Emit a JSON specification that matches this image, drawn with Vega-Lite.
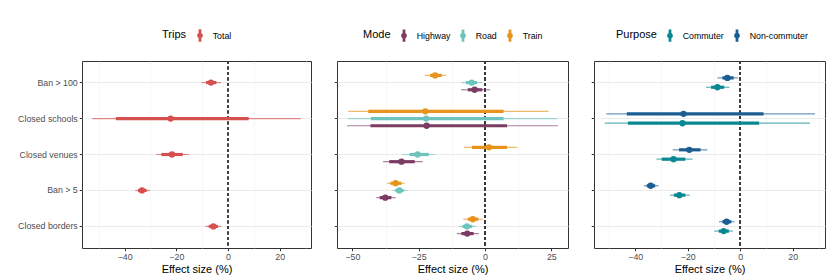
{
  "$schema": "https://vega.github.io/schema/vega-lite/v6.json",
  "padding": {"left": 17, "top": 28, "right": 4, "bottom": 4},
  "bounds": "flush",
  "spacing": 26,
  "datasets": {
    "trips": [
      {"policy": "Ban > 100", "group": "Total", "est": -6.6, "lo95": -10.3, "hi95": -2.7, "lo50": -8.5, "hi50": -4.5},
      {"policy": "Closed schools", "group": "Total", "est": -22.2, "lo95": -52.5, "hi95": 28.1, "lo50": -43.4, "hi50": 8.0},
      {"policy": "Closed venues", "group": "Total", "est": -21.7, "lo95": -27.9, "hi95": -15.1, "lo50": -25.8, "hi50": -17.5},
      {"policy": "Ban > 5", "group": "Total", "est": -33.3, "lo95": -35.9, "hi95": -30.2, "lo50": -34.8, "hi50": -31.5},
      {"policy": "Closed borders", "group": "Total", "est": -5.7, "lo95": -8.8, "hi95": -2.7, "lo50": -7.5, "hi50": -3.9}
    ],
    "mode": [
      {"policy": "Ban > 100", "group": "Train", "est": -18.8, "lo95": -22.7, "hi95": -14.6, "lo50": -20.7, "hi50": -16.3},
      {"policy": "Ban > 100", "group": "Road", "est": -5.0, "lo95": -9.0, "hi95": -1.0, "lo50": -7.2, "hi50": -3.0},
      {"policy": "Ban > 100", "group": "Highway", "est": -3.9, "lo95": -9.0, "hi95": 1.9, "lo50": -6.5, "hi50": -1.0},
      {"policy": "Closed schools", "group": "Train", "est": -22.5, "lo95": -51.6, "hi95": 24.0, "lo50": -44.0, "hi50": 7.0},
      {"policy": "Closed schools", "group": "Road", "est": -22.2, "lo95": -51.6, "hi95": 27.1, "lo50": -43.0, "hi50": 7.0},
      {"policy": "Closed schools", "group": "Highway", "est": -22.0, "lo95": -52.0, "hi95": 27.5, "lo50": -43.2, "hi50": 8.3},
      {"policy": "Closed venues", "group": "Train", "est": 1.5, "lo95": -8.0, "hi95": 12.1, "lo50": -4.9, "hi50": 8.3},
      {"policy": "Closed venues", "group": "Road", "est": -25.4, "lo95": -31.2, "hi95": -18.7, "lo50": -28.4, "hi50": -21.2},
      {"policy": "Closed venues", "group": "Highway", "est": -31.5, "lo95": -38.4, "hi95": -23.5, "lo50": -36.1, "hi50": -26.5},
      {"policy": "Ban > 5", "group": "Train", "est": -33.7, "lo95": -36.9, "hi95": -30.3, "lo50": -35.7, "hi50": -31.5},
      {"policy": "Ban > 5", "group": "Road", "est": -32.3, "lo95": -34.8, "hi95": -29.3, "lo50": -33.8, "hi50": -30.7},
      {"policy": "Ban > 5", "group": "Highway", "est": -37.6, "lo95": -41.0, "hi95": -33.7, "lo50": -39.7, "hi50": -35.3},
      {"policy": "Closed borders", "group": "Train", "est": -4.6, "lo95": -8.2, "hi95": -0.8, "lo50": -6.5, "hi50": -2.5},
      {"policy": "Closed borders", "group": "Road", "est": -6.8, "lo95": -9.9, "hi95": -3.3, "lo50": -8.5, "hi50": -4.8},
      {"policy": "Closed borders", "group": "Highway", "est": -6.7, "lo95": -10.6, "hi95": -2.3, "lo50": -8.9, "hi50": -4.3}
    ],
    "purpose": [
      {"policy": "Ban > 100", "group": "Non-commuter", "est": -4.9, "lo95": -8.7, "hi95": -0.8, "lo50": -6.8, "hi50": -2.5},
      {"policy": "Ban > 100", "group": "Commuter", "est": -8.7, "lo95": -13.0, "hi95": -4.1, "lo50": -11.1, "hi50": -6.1},
      {"policy": "Closed schools", "group": "Non-commuter", "est": -21.6, "lo95": -51.0, "hi95": 28.5, "lo50": -43.2, "hi50": 8.9},
      {"policy": "Closed schools", "group": "Commuter", "est": -22.0, "lo95": -51.6, "hi95": 26.6, "lo50": -42.8, "hi50": 7.2},
      {"policy": "Closed venues", "group": "Non-commuter", "est": -19.4, "lo95": -25.7, "hi95": -12.5, "lo50": -23.3, "hi50": -15.1},
      {"policy": "Closed venues", "group": "Commuter", "est": -25.4, "lo95": -31.9, "hi95": -18.2, "lo50": -29.9, "hi50": -20.9},
      {"policy": "Ban > 5", "group": "Non-commuter", "est": -34.1, "lo95": -36.7, "hi95": -31.1, "lo50": -35.6, "hi50": -32.4},
      {"policy": "Ban > 5", "group": "Commuter", "est": -23.2, "lo95": -26.8, "hi95": -19.2, "lo50": -25.3, "hi50": -20.9},
      {"policy": "Closed borders", "group": "Non-commuter", "est": -5.2, "lo95": -8.1, "hi95": -2.2, "lo50": -6.8, "hi50": -3.4},
      {"policy": "Closed borders", "group": "Commuter", "est": -6.3, "lo95": -9.9, "hi95": -2.8, "lo50": -8.2, "hi50": -4.3}
    ]
  },
  "resolve": {"scale": {"color": "independent", "x": "independent", "y": "independent", "yOffset": "independent"}, "legend": {"color": "independent"}},
  "hconcat": [
    {
      "width": 229,
      "height": 187,
      "data": {"name": "trips"},
      "resolve": {"axis": {"x": "independent"}},
      "layer": [
        {"mark": {"type": "rule", "strokeDash": [3, 2.5], "strokeWidth": 1, "color": "#3A3A3A"},
         "encoding": {"x": {"datum": 0, "type": "quantitative",
            "axis": {"values": [-50, -30, -10, 10, 30], "orient": "bottom", "labels": false, "ticks": false, "domain": false, "title": null, "grid": true, "gridColor": "#F2F2F2", "gridWidth": 0.6}}}},
        {"mark": {"type": "rule", "strokeWidth": 1.2, "opacity": 0.65},
         "encoding": {
           "y": {"field": "policy", "type": "nominal", "title": null,
             "scale": {"domain": ["Ban > 100", "Closed schools", "Closed venues", "Ban > 5", "Closed borders"], "paddingInner": 0, "paddingOuter": 0.1},
             "axis": {"labels": true, "grid": true, "bandPosition": 0.5}},
           "color": {"field": "group", "type": "nominal", "title": "Trips",
             "scale": {"domain": ["Total"], "range": ["#D6504F"]},
             "legend": {"orient": "none", "legendX": 80, "legendY": -32}},
           "x": {"field": "lo95", "type": "quantitative", "title": "Effect size (%)",
             "scale": {"domain": [-56.5, 32.1], "nice": false, "zero": false},
             "axis": {"values": [-40, -20, 0, 20], "orient": "bottom"}},
           "x2": {"field": "hi95"}}},
        {"mark": {"type": "rule", "strokeWidth": 3.2},
         "encoding": {"y": {"field": "policy", "type": "nominal"}, "color": {"field": "group", "type": "nominal"},
           "x": {"field": "lo50", "type": "quantitative", "axis": null}, "x2": {"field": "hi50"}}},
        {"mark": {"type": "point", "shape": "circle", "filled": true, "size": 40, "opacity": 1},
         "encoding": {"y": {"field": "policy", "type": "nominal"}, "color": {"field": "group", "type": "nominal"},
           "x": {"field": "est", "type": "quantitative", "axis": null}}}
      ]
    },
    {
      "width": 231,
      "height": 187,
      "data": {"name": "mode"},
      "resolve": {"axis": {"x": "independent"}},
      "layer": [
        {"mark": {"type": "rule", "strokeDash": [3, 2.5], "strokeWidth": 1, "color": "#3A3A3A"},
         "encoding": {"x": {"datum": 0, "type": "quantitative",
            "axis": {"values": [-37.5, -12.5, 12.5], "orient": "bottom", "labels": false, "ticks": false, "domain": false, "title": null, "grid": true, "gridColor": "#F2F2F2", "gridWidth": 0.6}}}},
        {"mark": {"type": "rule", "strokeWidth": 1.2, "opacity": 0.65},
         "encoding": {
           "y": {"field": "policy", "type": "nominal", "title": null,
             "scale": {"domain": ["Ban > 100", "Closed schools", "Closed venues", "Ban > 5", "Closed borders"], "paddingInner": 0, "paddingOuter": 0.1},
             "axis": {"labels": false, "grid": true, "bandPosition": 0.5}},
           "yOffset": {"field": "group", "type": "nominal",
             "scale": {"domain": ["Train", "Road", "Highway"], "paddingInner": 0, "paddingOuter": 1.5}},
           "color": {"field": "group", "type": "nominal", "title": "Mode",
             "scale": {"domain": ["Highway", "Road", "Train"], "range": ["#7B3B62", "#6CC4BC", "#E8941C"]},
             "legend": {"orient": "none", "legendX": 26, "legendY": -32}},
           "x": {"field": "lo95", "type": "quantitative", "title": "Effect size (%)",
             "scale": {"domain": [-55.8, 31.3], "nice": false, "zero": false},
             "axis": {"values": [-50, -25, 0, 25], "orient": "bottom"}},
           "x2": {"field": "hi95"}}},
        {"mark": {"type": "rule", "strokeWidth": 3.2},
         "encoding": {"y": {"field": "policy", "type": "nominal"}, "yOffset": {"field": "group", "type": "nominal"}, "color": {"field": "group", "type": "nominal"},
           "x": {"field": "lo50", "type": "quantitative", "axis": null}, "x2": {"field": "hi50"}}},
        {"mark": {"type": "point", "shape": "circle", "filled": true, "size": 40, "opacity": 1},
         "encoding": {"y": {"field": "policy", "type": "nominal"}, "yOffset": {"field": "group", "type": "nominal"}, "color": {"field": "group", "type": "nominal"},
           "x": {"field": "est", "type": "quantitative", "axis": null}}}
      ]
    },
    {
      "width": 231,
      "height": 187,
      "data": {"name": "purpose"},
      "resolve": {"axis": {"x": "independent"}},
      "layer": [
        {"mark": {"type": "rule", "strokeDash": [3, 2.5], "strokeWidth": 1, "color": "#3A3A3A"},
         "encoding": {"x": {"datum": 0, "type": "quantitative",
            "axis": {"values": [-50, -30, -10, 10, 30], "orient": "bottom", "labels": false, "ticks": false, "domain": false, "title": null, "grid": true, "gridColor": "#F2F2F2", "gridWidth": 0.6}}}},
        {"mark": {"type": "rule", "strokeWidth": 1.2, "opacity": 0.65},
         "encoding": {
           "y": {"field": "policy", "type": "nominal", "title": null,
             "scale": {"domain": ["Ban > 100", "Closed schools", "Closed venues", "Ban > 5", "Closed borders"], "paddingInner": 0, "paddingOuter": 0.1},
             "axis": {"labels": false, "grid": true, "bandPosition": 0.5}},
           "yOffset": {"field": "group", "type": "nominal",
             "scale": {"domain": ["Non-commuter", "Commuter"], "paddingInner": 0, "paddingOuter": 0.92}},
           "color": {"field": "group", "type": "nominal", "title": "Purpose",
             "scale": {"domain": ["Commuter", "Non-commuter"], "range": ["#0A8892", "#1B5E93"]},
             "legend": {"orient": "none", "legendX": 22, "legendY": -32}},
           "x": {"field": "lo95", "type": "quantitative", "title": "Effect size (%)",
             "scale": {"domain": [-55.7, 32.3], "nice": false, "zero": false},
             "axis": {"values": [-40, -20, 0, 20], "orient": "bottom"}},
           "x2": {"field": "hi95"}}},
        {"mark": {"type": "rule", "strokeWidth": 3.2},
         "encoding": {"y": {"field": "policy", "type": "nominal"}, "yOffset": {"field": "group", "type": "nominal"}, "color": {"field": "group", "type": "nominal"},
           "x": {"field": "lo50", "type": "quantitative", "axis": null}, "x2": {"field": "hi50"}}},
        {"mark": {"type": "point", "shape": "circle", "filled": true, "size": 40, "opacity": 1},
         "encoding": {"y": {"field": "policy", "type": "nominal"}, "yOffset": {"field": "group", "type": "nominal"}, "color": {"field": "group", "type": "nominal"},
           "x": {"field": "est", "type": "quantitative", "axis": null}}}
      ]
    }
  ],
  "config": {
    "font": "Liberation Sans",
    "view": {"stroke": "#333333", "strokeWidth": 1},
    "axis": {
      "domain": false,
      "labelOverlap": false,
      "labelFontSize": 8.8,
      "labelColor": "#4D4D4D",
      "labelPadding": 2,
      "tickColor": "#333333",
      "tickSize": 2.75,
      "tickWidth": 1,
      "gridColor": "#EBEBEB",
      "gridWidth": 1.1,
      "titleFontSize": 11,
      "titleFontWeight": "normal",
      "titleColor": "#000000",
      "titlePadding": 2
    },
    "legend": {
      "direction": "horizontal",
      "titleOrient": "left",
      "titleFontSize": 11,
      "titleFontWeight": "normal",
      "titleColor": "#000000",
      "titlePadding": 6.5,
      "labelFontSize": 8.8,
      "labelColor": "#000000",
      "labelOffset": 6.2,
      "columnPadding": 6,
      "symbolType": "M-0.22,-1H0.22V1H-0.22Z M0.46,0A0.46,0.46,0,1,1,-0.46,0A0.46,0.46,0,1,1,0.46,0Z",
      "symbolSize": 156,
      "symbolStrokeWidth": 0,
      "symbolOpacity": 1
    }
  }
}
